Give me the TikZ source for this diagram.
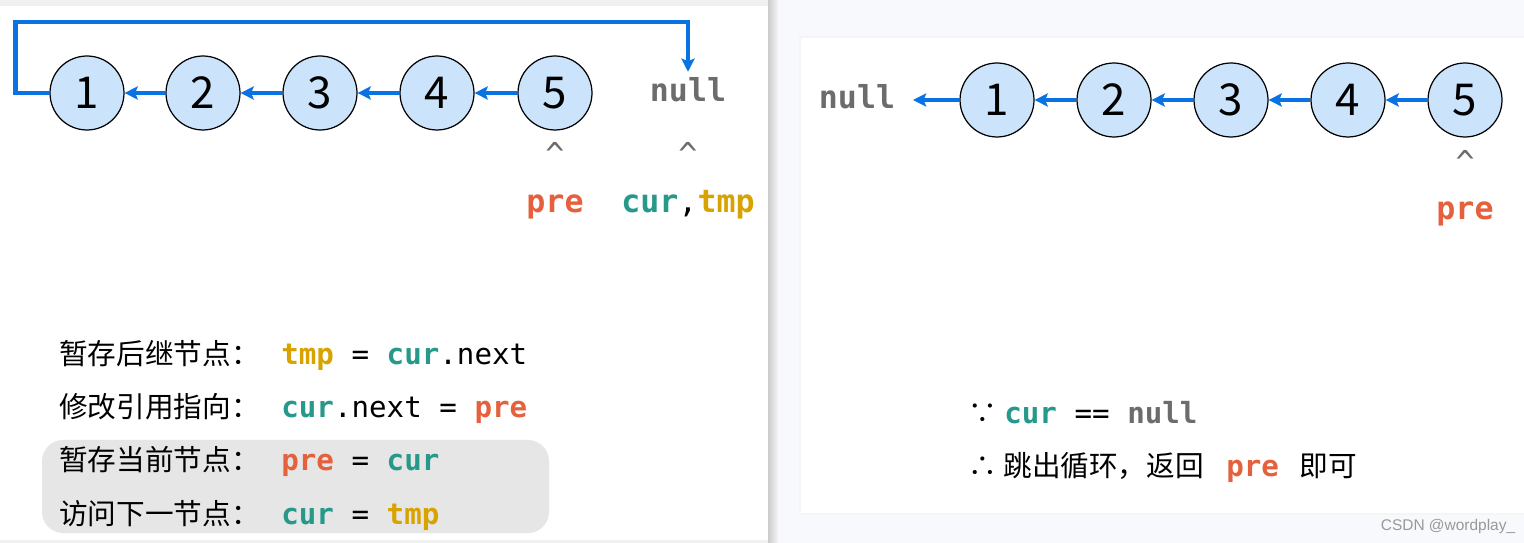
\documentclass[tikz,border=0pt]{standalone}
\usepackage{fontspec}
\usepackage{tikz}
\usetikzlibrary{arrows.meta,positioning,calc}
\usepackage{xcolor}
\setmainfont{Noto Sans CJK SC}
\setmonofont{DejaVu Sans Mono}
\newfontfamily\marque{Liberation Sans}

\definecolor{lienbleu}{HTML}{0A73E3}
\definecolor{noeudfond}{HTML}{CCE4FB}
\definecolor{prerouge}{HTML}{E5603D}
\definecolor{curvert}{HTML}{26998A}
\definecolor{tmpjaune}{HTML}{D8A300}
\definecolor{nullgris}{HTML}{6E6B6B}
\definecolor{boitegris}{HTML}{E6E6E6}
\definecolor{fondpanneau}{HTML}{F8F9FC}

\newcommand{\kpre}{{\bfseries\color{prerouge}pre}}
\newcommand{\kcur}{{\bfseries\color{curvert}cur}}
\newcommand{\ktmp}{{\bfseries\color{tmpjaune}tmp}}
\newcommand{\knull}{{\bfseries\color{nullgris}null}}

\begin{document}
\begin{tikzpicture}[
    x=0.02cm, y=-0.02cm,
    noeud/.style={circle, draw, fill=noeudfond, line width=0.7pt, minimum size=1.48cm, inner sep=0pt, font=\fontsize{25}{25}\selectfont},
    lien/.style={lienbleu, line width=2.4pt, -{Stealth[length=7.5pt,width=7.5pt,inset=1.5pt]}},
    vide/.style={anchor=base, font=\fontsize{18}{18}\selectfont\ttfamily\bfseries, text=nullgris},
    caret/.style={anchor=base, font=\fontsize{18}{18}\selectfont\ttfamily, text=nullgris},
    etiq/.style={anchor=base, font=\fontsize{18}{18}\selectfont\ttfamily},
    ligne/.style={anchor=base west, inner sep=0pt, font=\fontsize{16.3}{16.3}\selectfont},
    code/.style={anchor=base west, inner sep=0pt, font=\fontsize{16.6}{16.6}\selectfont\ttfamily}
]
    \useasboundingbox (0,0) rectangle (1524,543);

    % Fonds
    \fill[gray!12] (0,0) rectangle (1524,543);
    \fill[white] (0,6) rectangle (768,540);
    \fill[fondpanneau] (778,0) rectangle (1524,543);
    \shade[left color=gray!40, right color=gray!8] (768,0) rectangle (778,543);
    \fill[gray!8] (799,36) rectangle (1524,515);
    \fill[white] (801,38) rectangle (1524,513);
    \fill[boitegris, rounded corners=12] (42,440) rectangle (549,533);

    % Liste de gauche
    \foreach \i/\x in {1/87,2/203,3/320,4/437,5/555}
        \node[noeud] (g\i) at (\x,93) {\i};
    \node[vide] (gnull) at (688,102) {null};
    \foreach \i/\j in {2/1,3/2,4/3,5/4}
        \draw[lien] (g\i) -- (g\j);
    \draw[lien] (g1.west) -- ++(-34,0) -- ++(0,-71) -| (gnull.north);

    % Pointeurs de gauche
    \node[caret] (gc1) at (555,166) {\^{}};
    \node[caret] (gc2) at (688,166) {\^{}};
    \node[etiq] (gpre) at (555,213) {\kpre};
    \node[etiq] (gcur) at (688,213) {\kcur,\ktmp};

    % Etapes
    \node[ligne] (l1) at (59,365) {暂存后继节点：};
    \node[ligne] (l2) at (59,418) {修改引用指向：};
    \node[ligne] (l3) at (59,471) {暂存当前节点：};
    \node[ligne] (l4) at (59,524) {访问下一节点：};
    \node[code] (c1) at (281,365) {\ktmp{} = \kcur.next};
    \node[code] (c2) at (281,418) {\kcur.next = \kpre};
    \node[code] (c3) at (281,471) {\kpre{} = \kcur};
    \node[code] (c4) at (281,524) {\kcur{} = \ktmp};

    % Liste de droite
    \node[vide] (dnull) at (857,109) {null};
    \foreach \i/\x in {1/997,2/1114,3/1231,4/1348,5/1465}
        \node[noeud] (d\i) at (\x,100) {\i};
    \foreach \i/\j in {2/1,3/2,4/3,5/4}
        \draw[lien] (d\i) -- (d\j);
    \coordinate (dfin) at (913,100);
    \draw[lien] (d1) -- (dfin);
    \node[caret] (dc) at (1465,174) {\^{}};
    \node[etiq] (dpre) at (1465,220) {\kpre};

    % Conclusion
    \node[ligne] (r1a) at (968,424) {∵};
    \node[code] (r1b) at (1004,424) {\kcur{} == \knull};
    \node[ligne] (r2a) at (968,477) {∴};
    \node[ligne] (r2b) at (1003,477) {跳出循环，返回};
    \node[code] (r2c) at (1226,477) {\kpre};
    \node[ligne] (r2d) at (1299,477) {即可};

    % Marque
    \node[text=gray!80, font=\marque\fontsize{8.8}{8.8}\selectfont] (wm) at (1448,527) {CSDN @wordplay\_};
\end{tikzpicture}
\end{document}
